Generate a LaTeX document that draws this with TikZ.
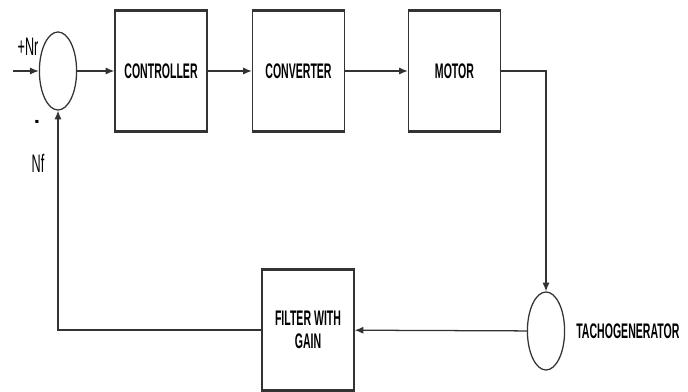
\documentclass[tikz,border=0pt]{standalone}
\usepackage{fontspec}
\newfontfamily\blockfont[FakeStretch=0.5]{Liberation Sans}
\usetikzlibrary{shapes.geometric,arrows.meta}

\begin{document}
\begin{tikzpicture}[x=0.025cm, y=-0.025cm,
    line width=0.9pt, draw=black!80,
    block/.style={draw, minimum width=2.3cm, minimum height=3cm, align=center,
        font=\blockfont\bfseries\fontsize{15}{16}\selectfont},
    junction/.style={draw, ellipse, minimum width=0.93cm, minimum height=1.95cm, inner sep=0pt},
    sig/.style={-{Latex[length=2.2mm,width=1.8mm]}},
    tag/.style={font=\blockfont\fontsize{18}{19}\selectfont}]
    \useasboundingbox (0,0) rectangle (688,392);

    % forward path
    \node[junction] (sum) at (58,71) {};
    \node[block] (ctrl) at (161,71) {CONTROLLER};
    \node[block] (conv) at (298.5,71) {CONVERTER};
    \node[block] (motor) at (454.5,71) {MOTOR};

    % feedback path
    \node[junction] (tacho) at (546,331) {};
    \node[block] (filter) at (308,330) {FILTER WITH\\GAIN};
    \node[block, draw=none, minimum width=0pt, minimum height=0pt, anchor=west] (tacholabel) at (571,331) {TACHOGENERATOR};

    % signal labels
    \node[tag] (nr) at (28,47) {+Nr};
    \node[tag, font=\blockfont\bfseries\fontsize{18}{19}\selectfont] (minus) at (37,124) {-};
    \node[tag] (nf) at (38,163) {Nf};

    % heavy top and bottom edges
    \foreach \b in {ctrl,conv,motor,filter}
        \draw[line width=2pt] (\b.north west) -- (\b.north east)
            (\b.south west) -- (\b.south east);

    % connectors
    \coordinate (in) at (13,71);
    \draw[sig] (in) -- (sum);
    \draw[sig] (sum) -- (ctrl);
    \draw[sig] (ctrl) -- (conv);
    \draw[sig] (conv) -- (motor);
    \draw[sig] (motor.east) -| (tacho.north);
    \draw[sig] (tacho) -- (filter);
    \draw[sig] (filter.west) -| (sum.south);
\end{tikzpicture}
\end{document}
